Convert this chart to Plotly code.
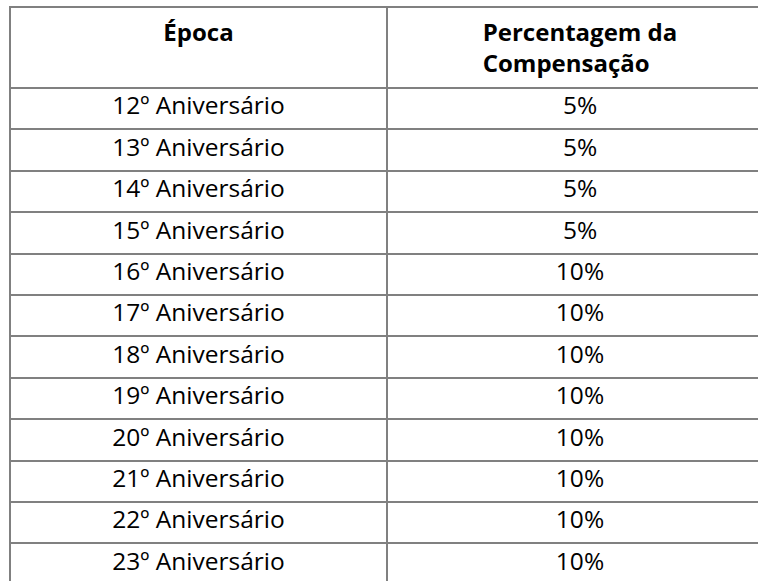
import plotly.graph_objects as go

header_labels = ["<b>Época</b>", "<b>Percentagem da<br>Compensação</b>"]
epocas = [f"{n}º Aniversário" for n in [12, 13, 14, 15, 16, 17, 18, 19, 20, 21, 22, 23]]
percentagens = ["5%", "5%", "5%", "5%", "10%", "10%", "10%", "10%", "10%", "10%", "10%", "10%"]

line_color = "#808080"
font_family = "'Open Sans', sans-serif"

fig = go.Figure(go.Table(
    columnwidth=[377, 386],
    header=dict(
        values=header_labels,
        align="center",
        height=81,
        line=dict(color=line_color, width=2),
        fill_color="white",
        font=dict(family=font_family, size=24, color="black"),
    ),
    cells=dict(
        values=[epocas, percentagens],
        align="center",
        height=41.4,
        line=dict(color=line_color, width=2),
        fill_color="white",
        font=dict(family=font_family, size=24.5, color="black"),
    ),
))

fig.update_layout(
    margin=dict(l=10, r=2, t=7, b=0),
    paper_bgcolor="white",
    width=775,
    height=590,
)

fig.write_html(
    "out.html",
    config={"displayModeBar": False},
    post_script="document.body.style.margin='0';document.body.style.overflow='hidden';",
)
